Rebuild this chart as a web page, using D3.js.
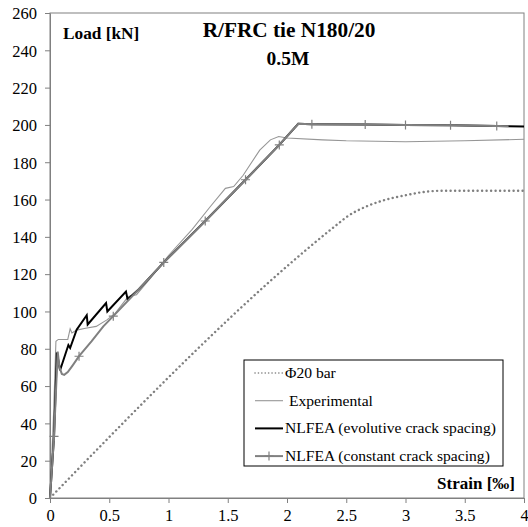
<!DOCTYPE html>
<html>
<head>
<meta charset="utf-8">
<script src="https://cdn.jsdelivr.net/npm/d3@7"></script>
<style>
  html, body { margin: 0; padding: 0; background: #fff; }
  text { font-family: "Liberation Serif", "Times New Roman", serif; fill: #000; }
</style>
</head>
<body>
<svg id="chart" width="528" height="527"></svg>
<script>
// strain [‰], load [kN]
const barData = [[0, 0], [2.45, 148], [2.5, 150.5], [2.67, 156.3], [2.8, 159.3], [3.0, 162.3], [3.15, 164], [3.3, 164.7], [4, 164.7]]

const expData = [
  [0, 0], [0.03, 45], [0.05, 84], [0.07, 85], [0.15, 85], [0.17, 90.7], [0.185, 88.5], [0.225, 90],
  [0.3, 91], [0.39, 92], [0.48, 95.5], [0.55, 99], [0.66, 108], [0.73, 109], [0.85, 118],
  [1.0, 130], [1.2, 144], [1.35, 156], [1.48, 166], [1.55, 167], [1.63, 173], [1.77, 186.5],
  [1.86, 192], [1.93, 193.8], [2.0, 193], [2.3, 192], [2.5, 191.5], [3.0, 191], [3.5, 191.5], [4.0, 192.3]
]

const evoData = [
  [0, 0], [0.034, 33], [0.058, 78], [0.085, 68.5], [0.155, 82], [0.17, 80.4], [0.225, 90.2],
  [0.31, 98], [0.318, 93], [0.473, 104.5], [0.484, 100], [0.641, 110.7], [0.655, 106.5],
  [0.75, 111.9], [0.96, 126.3], [1.31, 148.5], [1.65, 170.6], [1.935, 189.3], [2.095, 200.6],
  [2.21, 200.4], [2.66, 200.2], [3.0, 200], [3.38, 199.8], [3.77, 199.4], [4.0, 199.2]
]

const constData = [
  [0, 0], [0.034, 33], [0.065, 78.5], [0.08, 70], [0.1, 66.5], [0.12, 66], [0.15, 67.5], [0.19, 71],
  [0.245, 76], [0.35, 84], [0.45, 92], [0.534, 97.5], [0.75, 111.9], [0.96, 126.3], [1.31, 148.5],
  [1.65, 170.6], [1.935, 189.3], [2.095, 200.6], [2.21, 200.4], [2.66, 200.2], [3.0, 200],
  [3.38, 199.8], [3.77, 199.4], [3.87, 199.3]
]

const constMarks = [[0.034, 33], [0.245, 76], [0.534, 97.5], [0.96, 126.3], [1.31, 148.5], [1.65, 170.6],
  [1.935, 189.3], [2.21, 200.4], [2.66, 200.2], [3.0, 200], [3.38, 199.8], [3.77, 199.4]]

const xTicks = [0, 0.5, 1, 1.5, 2, 2.5, 3, 3.5, 4]
const yTicks = d3.range(0, 261, 20)

const legendLabels = ['\u03A620 bar', ' Experimental', 'NLFEA (evolutive crack spacing)', 'NLFEA (constant crack spacing)']

const margin = { top: 13, right: 4, bottom: 29, left: 50 }
const width = 528
const height = 527
const grey = '#808080'

const svg = d3.select('#chart')

const x = d3.scaleLinear().domain([0, 4]).range([margin.left, width - margin.right])
const y = d3.scaleLinear().domain([0, 260]).range([height - margin.bottom, margin.top])

// frame
svg.append('rect')
  .attr('x', x(0)).attr('y', y(260))
  .attr('width', x(4) - x(0)).attr('height', y(0) - y(260))
  .attr('fill', 'none').attr('stroke', grey).attr('stroke-width', 1)

// axes
const xAxis = svg.append('g')
  .attr('transform', 'translate(0,' + y(0) + ')')
  .call(d3.axisBottom(x).tickValues(xTicks).tickSize(5).tickSizeOuter(0).tickPadding(6).tickFormat(d3.format('')))
const yAxis = svg.append('g')
  .attr('transform', 'translate(' + x(0) + ',0)')
  .call(d3.axisLeft(y).tickValues(yTicks).tickSize(5).tickSizeOuter(0).tickPadding(8))

;[xAxis, yAxis].forEach(function (g) {
  g.select('.domain').attr('stroke', grey)
  g.selectAll('.tick line').attr('stroke', grey)
  g.selectAll('.tick text')
    .style('font-family', '"Liberation Serif", serif')
    .style('font-size', '16.5px')
    .attr('fill', '#000')
})
yAxis.selectAll('.tick text').attr('dy', '0.35em')

const line = d3.line().x(function (d) { return x(d[0]) }).y(function (d) { return y(d[1]) })
const smooth = d3.line().x(function (d) { return x(d[0]) }).y(function (d) { return y(d[1]) }).curve(d3.curveMonotoneX)

// Phi20 bar (dotted)
svg.append('path')
  .attr('d', smooth(barData))
  .attr('fill', 'none')
  .attr('stroke', grey)
  .attr('stroke-width', 2.4)
  .attr('stroke-linecap', 'round')
  .attr('stroke-dasharray', '0.1 4.4')

// experimental
svg.append('path')
  .attr('d', line(expData))
  .attr('fill', 'none')
  .attr('stroke', '#969696')
  .attr('stroke-width', 1.1)

// evolutive crack spacing
svg.append('path')
  .attr('d', line(evoData))
  .attr('fill', 'none')
  .attr('stroke', '#000')
  .attr('stroke-width', 2)

// constant crack spacing
svg.append('path')
  .attr('d', line(constData))
  .attr('fill', 'none')
  .attr('stroke', grey)
  .attr('stroke-width', 2)

const plus = function (sel, s) {
  sel.append('path')
    .attr('d', 'M' + (-s) + ',0H' + s + 'M0,' + (-s) + 'V' + s)
    .attr('stroke', grey)
    .attr('stroke-width', 1.2)
    .attr('fill', 'none')
}
svg.selectAll('.mark')
  .data(constMarks)
  .enter()
  .append('g')
  .attr('class', 'mark')
  .attr('transform', function (d) { return 'translate(' + x(d[0]) + ',' + y(d[1]) + ')' })
  .each(function () { plus(d3.select(this), 4.5) })

// texts
svg.append('text')
  .attr('x', 63).attr('y', 39)
  .style('font-size', '17.3px').style('font-weight', 'bold')
  .text('Load [kN]')
svg.append('text')
  .attr('x', 289).attr('y', 37)
  .attr('text-anchor', 'middle')
  .style('font-size', '21.3px').style('font-weight', 'bold')
  .text('R/FRC tie N180/20')
svg.append('text')
  .attr('x', 288).attr('y', 65)
  .attr('text-anchor', 'middle')
  .style('font-size', '19.5px').style('font-weight', 'bold')
  .text('0.5M')
svg.append('text')
  .attr('x', 515).attr('y', 489)
  .attr('text-anchor', 'end')
  .style('font-size', '17px').style('font-weight', 'bold')
  .text('Strain [\u2030]')

// legend
const legend = svg.append('g').attr('transform', 'translate(244,360)')
legend.append('rect')
  .attr('width', 259).attr('height', 106)
  .attr('fill', '#fff').attr('stroke', '#000').attr('stroke-width', 1)

const rows = legend.selectAll('.row')
  .data(legendLabels)
  .enter()
  .append('g')
  .attr('class', 'row')
  .attr('transform', function (_, i) { return 'translate(0,' + (13 + i * 27.7) + ')' })

rows.each(function (_, i) {
  const g = d3.select(this)
  const seg = g.append('line').attr('x1', 11).attr('x2', 39).attr('y1', 0).attr('y2', 0)
  if (i === 0) {
    seg.attr('stroke', grey).attr('stroke-width', 1.6).attr('stroke-linecap', 'round').attr('stroke-dasharray', '0.1 3.3')
  } else if (i === 1) {
    seg.attr('stroke', '#969696').attr('stroke-width', 1.1)
  } else if (i === 2) {
    seg.attr('stroke', '#000').attr('stroke-width', 2)
  } else {
    seg.attr('stroke', grey).attr('stroke-width', 2)
    plus(g.append('g').attr('transform', 'translate(25,0)'), 4.5)
  }
})

rows.append('text')
  .attr('x', 41).attr('y', 5)
  .style('font-size', '15.6px')
  .style('white-space', 'pre')
  .text(function (d) { return d })
</script>
</body>
</html>
